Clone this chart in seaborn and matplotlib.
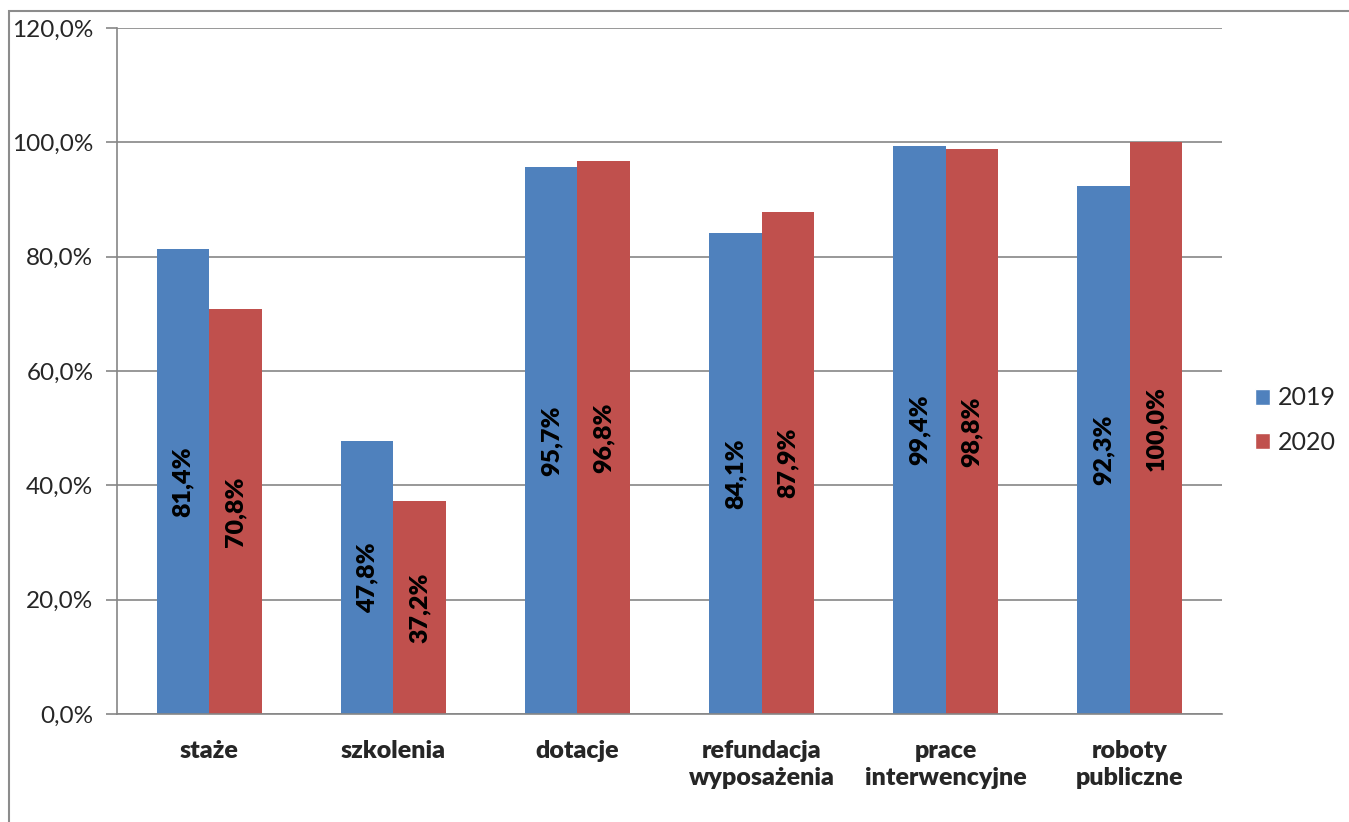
import matplotlib
matplotlib.use("Agg")
import matplotlib.pyplot as plt
from matplotlib.patches import Rectangle, Patch
import pandas as pd
import seaborn as sns

categories = ["staże", "szkolenia", "dotacje", "refundacja\nwyposażenia",
              "prace\ninterwencyjne", "roboty\npubliczne"]
years = ["2019", "2020"]
vals_2019 = [81.4, 47.8, 95.7, 84.1, 99.4, 92.3]
vals_2020 = [70.8, 37.2, 96.8, 87.9, 98.8, 100.0]
colors = {"2019": "#4F81BD", "2020": "#C0504D"}

df = pd.DataFrame({
    "cat": categories * 2,
    "year": ["2019"] * len(categories) + ["2020"] * len(categories),
    "val": vals_2019 + vals_2020,
})

sns.set_style("white")
plt.rcParams["font.family"] = ["Lato", "DejaVu Sans"]
grey = "#868686"

fig = plt.figure(figsize=(13.49, 8.22), dpi=100)
ax = fig.add_axes([117 / 1349, 1 - 714 / 822, (1222 - 117) / 1349, (714 - 28) / 822])

sns.barplot(data=df, x="cat", y="val", hue="year", palette=colors, width=0.57,
            saturation=1, ax=ax, legend=False, edgecolor="none")

for cont in ax.containers:
    labs = [f"{b.get_height():.1f}%".replace(".", ",") for b in cont]
    ax.bar_label(cont, labels=labs, label_type="center", rotation=90,
                 fontsize=18, fontweight="heavy", color="black")

ax.set_xlim(-0.5, len(categories) - 0.5)
ax.set_ylim(0, 120)
ax.set_yticks(range(0, 121, 20))
ax.set_yticklabels([f"{v},0%" for v in range(0, 121, 20)], fontsize=17.5)
ax.set_xticks(range(len(categories)))
ax.set_xticklabels(categories, fontsize=18, fontweight="heavy", linespacing=1.25)
ax.set_xticks([i - 0.5 for i in range(len(categories) + 1)], minor=True)
ax.tick_params(axis="x", which="major", length=0, pad=19)
ax.tick_params(axis="x", which="minor", length=8, width=1.2, color=grey, direction="out")
ax.tick_params(axis="y", length=8, width=1.2, color=grey, direction="out", pad=9, left=True)
ax.set_xlabel("")
ax.set_ylabel("")

ax.grid(axis="y", color=grey, linewidth=1.2)
ax.set_axisbelow(True)
for s in ["top", "right"]:
    ax.spines[s].set_visible(False)
for s in ["left", "bottom"]:
    ax.spines[s].set_color(grey)
    ax.spines[s].set_linewidth(1.2)

handles = [Patch(facecolor=colors[y], label=y) for y in years]
fig.legend(handles=handles, loc="center left", bbox_to_anchor=(1255 / 1349, 1 - 420 / 822),
           frameon=False, fontsize=18, handlelength=0.6, handleheight=0.6,
           handletextpad=0.32, labelspacing=0.85, borderpad=0, borderaxespad=0)

fig.patches.append(Rectangle((9 / 1349, -0.1), 1.2, 1 - 11 / 822 + 0.1,
                             transform=fig.transFigure, fill=False,
                             edgecolor="#8C8C8C", linewidth=1.5))

fig.savefig("out.png", dpi=100)
